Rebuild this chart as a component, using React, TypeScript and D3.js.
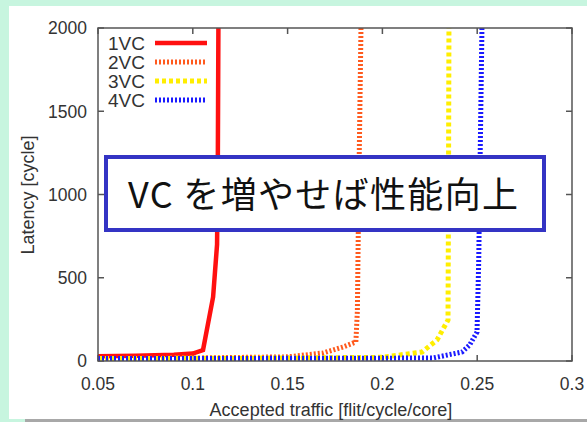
import React from "react";
import * as d3 from "d3";

// series: [accepted traffic, latency]
const vc1: [number, number][] = [[0.05, 28], [0.07, 32], [0.09, 38], [0.1, 45], [0.1054, 66], [0.1107, 384], [0.1128, 700], [0.1132, 1200], [0.1135, 2000]];
const vc2: [number, number][] = [[0.05, 15], [0.1, 18], [0.15, 25], [0.1687, 48], [0.1792, 84], [0.186, 114], [0.1868, 300], [0.1875, 1000], [0.1887, 2000]];
const vc3: [number, number][] = [[0.05, 15], [0.1, 16], [0.15, 18], [0.2, 22], [0.2209, 54], [0.2288, 126], [0.2346, 246], [0.2348, 800], [0.2351, 2000]];
const vc4: [number, number][] = [[0.05, 15], [0.1, 15], [0.15, 16], [0.2, 17], [0.2267, 18], [0.242, 54], [0.246, 96], [0.2499, 174], [0.2508, 600], [0.2525, 2000]];

const seriesNames = ["1VC", "2VC", "3VC", "4VC"];
const seriesData = [vc1, vc2, vc3, vc4];
const seriesColors = ["#ff1010", "#ff5a1e", "#ffee00", "#1a1aff"];
const seriesDash = [null, "2,2", "4,3", "2,2"];

const xTicks = [0.05, 0.1, 0.15, 0.2, 0.25, 0.3];
const yTicks = [0, 500, 1000, 1500, 2000];

const W = 587, H = 422;
const left = 98, right = 572, top = 28, bottom = 361;

export default function App() {
  const x = d3.scaleLinear().domain([0.05, 0.3]).range([left, right]);
  const y = d3.scaleLinear().domain([0, 2000]).range([bottom, top]);
  const line = d3.line<[number, number]>().x(d => x(d[0])).y(d => y(d[1]));
  const font = "'Liberation Sans', Arial, sans-serif";
  const axisColor = "#555";

  return (
    <svg width={W} height={H} style={{position: "absolute", left: 0, top: 0}}>
      <rect width={W} height={H} fill="#c7f5df" />
      <rect x={9} y={6} width={W - 9} height={413} fill="#fff" />
      <rect x={25} y={419} width={W - 25} height={3} fill="#a8a8a8" />

      <g fontFamily={font} fill="#333" fontSize={17.5}>
        {yTicks.map(t => (
          <g key={"y" + t}>
            <line x1={left} x2={left + 6} y1={y(t)} y2={y(t)} stroke={axisColor} strokeWidth={1.5} />
            <line x1={right - 6} x2={right} y1={y(t)} y2={y(t)} stroke={axisColor} strokeWidth={1.5} />
            <text x={87} y={y(t)} dy="0.36em" textAnchor="end">{t}</text>
          </g>
        ))}
        {xTicks.map(t => (
          <g key={"x" + t}>
            <line x1={x(t)} x2={x(t)} y1={bottom} y2={bottom - 6} stroke={axisColor} strokeWidth={1.5} />
            <line x1={x(t)} x2={x(t)} y1={top} y2={top + 6} stroke={axisColor} strokeWidth={1.5} />
            <text x={x(t)} y={384} dy="0.36em" textAnchor="middle">{t}</text>
          </g>
        ))}
        <text x={331} y={410} dy="0.36em" textAnchor="middle" fontSize={18}>Accepted traffic [flit/cycle/core]</text>
        <text transform="translate(28,195) rotate(-90)" dy="0.36em" textAnchor="middle" fontSize={18}>Latency [cycle]</text>
      </g>

      {seriesData.map((d, i) => (
        <path key={seriesNames[i]} d={line(d) || ""} fill="none" stroke={seriesColors[i]}
          strokeWidth={i === 0 ? 4.5 : 5} strokeDasharray={seriesDash[i] || undefined} />
      ))}

      <rect x={left} y={top} width={right - left} height={bottom - top} fill="none" stroke={axisColor} strokeWidth={1.5} />

      <g fontFamily={font} fontSize={19} fill="#333">
        {seriesNames.map((n, i) => (
          <g key={"leg" + n} transform={`translate(0,${43 + i * 19})`}>
            <text x={145} dy="0.36em" textAnchor="end">{n}</text>
            <line x1={155} x2={207} stroke={seriesColors[i]} strokeWidth={i === 0 ? 4.5 : 5}
              strokeDasharray={seriesDash[i] || undefined} />
          </g>
        ))}
      </g>

      <rect x={106} y={157} width={438} height={73} fill="#fff" stroke="#3434c4" strokeWidth={4} />
      <text x={128} y={195} dy="0.36em" fontSize={36} textLength={390} lengthAdjust="spacing"
        fontFamily="'Noto Sans CJK JP', sans-serif" fill="#111">VC を増やせば性能向上</text>
    </svg>
  );
}
